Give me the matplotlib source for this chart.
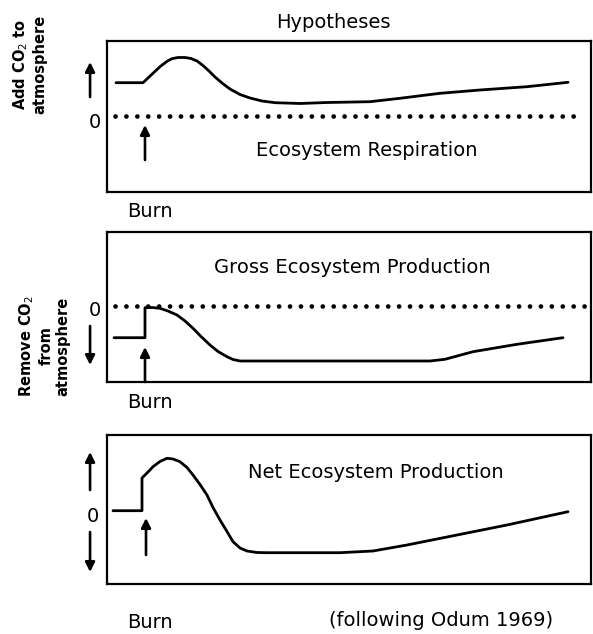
import matplotlib
matplotlib.use("Agg")
import matplotlib.pyplot as plt

# time since start (box width = 0..100) and response (0 = dotted line)
er_t = [1.86, 7.44, 9.19, 10.95, 12.40, 13.43, 14.67, 16.12, 17.36, 18.60, 19.83, 21.07, 22.31, 23.76,
        25.41, 27.48, 29.55, 32.02, 34.71, 39.88, 45.45, 54.34, 60.54, 68.80, 77.07, 86.78, 95.25]
er_v = [3.33, 3.33, 4.13, 4.93, 5.47, 5.73, 5.85, 5.85, 5.75, 5.5, 5.05, 4.5, 3.9, 3.3,
        2.7, 2.15, 1.8, 1.5, 1.33, 1.25, 1.35, 1.43, 1.77, 2.27, 2.6, 2.93, 3.37]

gep_t = [1.45, 7.85, 7.85, 9.30, 10.95, 12.60, 14.46, 16.12, 17.77, 19.42, 21.28, 22.93, 24.79,
         26.03, 27.48, 39.88, 66.74, 69.83, 75.62, 84.71, 94.21]
gep_v = [-3.17, -3.17, -0.17, -0.15, -0.23, -0.5, -0.9, -1.5, -2.23, -3.05, -3.9, -4.55, -5.07,
         -5.35, -5.5, -5.5, -5.5, -5.33, -4.57, -3.83, -3.17]

nep_t = [1.24, 7.23, 7.23, 8.47, 9.50, 10.95, 12.40, 13.64, 15.08, 16.53, 17.77, 19.21, 20.66, 21.90,
         23.35, 24.79, 26.03, 27.48, 28.93, 30.99, 33.06, 48.14, 54.96, 61.98, 72.31, 82.64, 95.25]
nep_v = [0, 0, 3.27, 3.87, 4.4, 4.92, 5.24, 5.17, 4.9, 4.32, 3.57, 2.62, 1.57, 0.32,
         -0.93, -2.08, -3.1, -3.73, -4.03, -4.18, -4.2, -4.2, -4.03, -3.43, -2.43, -1.43, -0.1]

panel_titles = ["Ecosystem Respiration", "Gross Ecosystem Production", "Net Ecosystem Production"]

W, H = 593, 634
plt.rcParams['font.family'] = ['DejaVu Sans']
fig = plt.figure(figsize=(W / 100, H / 100), dpi=100)


def make_ax(top_px, bot_px, ylim):
    ax = fig.add_axes([107 / W, 1 - bot_px / H, 484 / W, (bot_px - top_px) / H])
    ax.set_xlim(0, 100)
    ax.set_ylim(*ylim)
    ax.set_xticks([])
    ax.set_yticks([])
    for s in ax.spines.values():
        s.set_linewidth(1.6)
    return ax


def curve(ax, t, v):
    ax.plot(t, v, color='black', lw=2.0, solid_joinstyle='round', solid_capstyle='round')


def arrow(ax, x, y0, y1):
    ax.annotate("", xy=(x, y1), xytext=(x, y0), annotation_clip=False,
                arrowprops=dict(arrowstyle='-|>', lw=1.9, color='black',
                                mutation_scale=14, shrinkA=0, shrinkB=0))


def dots(ax, t0, t1):
    ax.plot([t0, t1], [0, 0], color='black', lw=3.4,
            linestyle=(0, (0.01, 2.3)), dash_capstyle='round')


fs = 14

# panel 1: ecosystem respiration
ax1 = make_ax(41, 192, (-7.6, 7.5))
curve(ax1, er_t, er_v)
dots(ax1, 1.65, 98.1)
arrow(ax1, -3.5, 1.9, 5.4)
arrow(ax1, 7.85, -4.4, -0.9)
ax1.text(-2.5, -0.6, "0", ha='center', va='center', fontsize=fs)
ax1.text(53.7, -3.4, panel_titles[0], ha='center', va='center', fontsize=fs)

# panel 2: gross ecosystem production
ax2 = make_ax(232, 382, (-7.6, 7.4))
curve(ax2, gep_t, gep_v)
dots(ax2, 1.65, 99.5)
arrow(ax2, -3.5, -2.0, -5.9)
arrow(ax2, 7.85, -7.6, -4.1)
ax2.text(-2.5, -0.4, "0", ha='center', va='center', fontsize=fs)
ax2.text(50.6, 3.9, panel_titles[1], ha='center', va='center', fontsize=fs)

# panel 3: net ecosystem production
ax3 = make_ax(435, 584, (-7.33, 7.57))
curve(ax3, nep_t, nep_v)
arrow(ax3, -3.5, 2.07, 5.87)
arrow(ax3, -3.5, -2.13, -6.13)
arrow(ax3, 8.06, -4.43, -0.73)
ax3.text(-2.9, -0.6, "0", ha='center', va='center', fontsize=fs)
ax3.text(55.6, 3.77, panel_titles[2], ha='center', va='center', fontsize=fs)

# figure texts
fig.text(333 / W, 1 - 22 / H, "Hypotheses", ha='center', va='center', fontsize=fs)
for y in [212, 403, 622]:
    fig.text(150 / W, 1 - y / H, "Burn", ha='center', va='center', fontsize=fs)
fig.text(441 / W, 1 - 620 / H, "(following Odum 1969)", ha='center', va='center', fontsize=fs)
fig.text(29 / W, 1 - 64 / H, "Add CO$_2$ to\natmosphere", rotation=90, ha='center',
         va='center', fontsize=10.5, fontweight='bold', linespacing=1.2)
fig.text(44 / W, 1 - 346 / H, "Remove CO$_2$\nfrom\natmosphere", rotation=90, ha='center',
         va='center', fontsize=10.5, fontweight='bold', linespacing=1.2)

fig.savefig("out.png", dpi=100)
